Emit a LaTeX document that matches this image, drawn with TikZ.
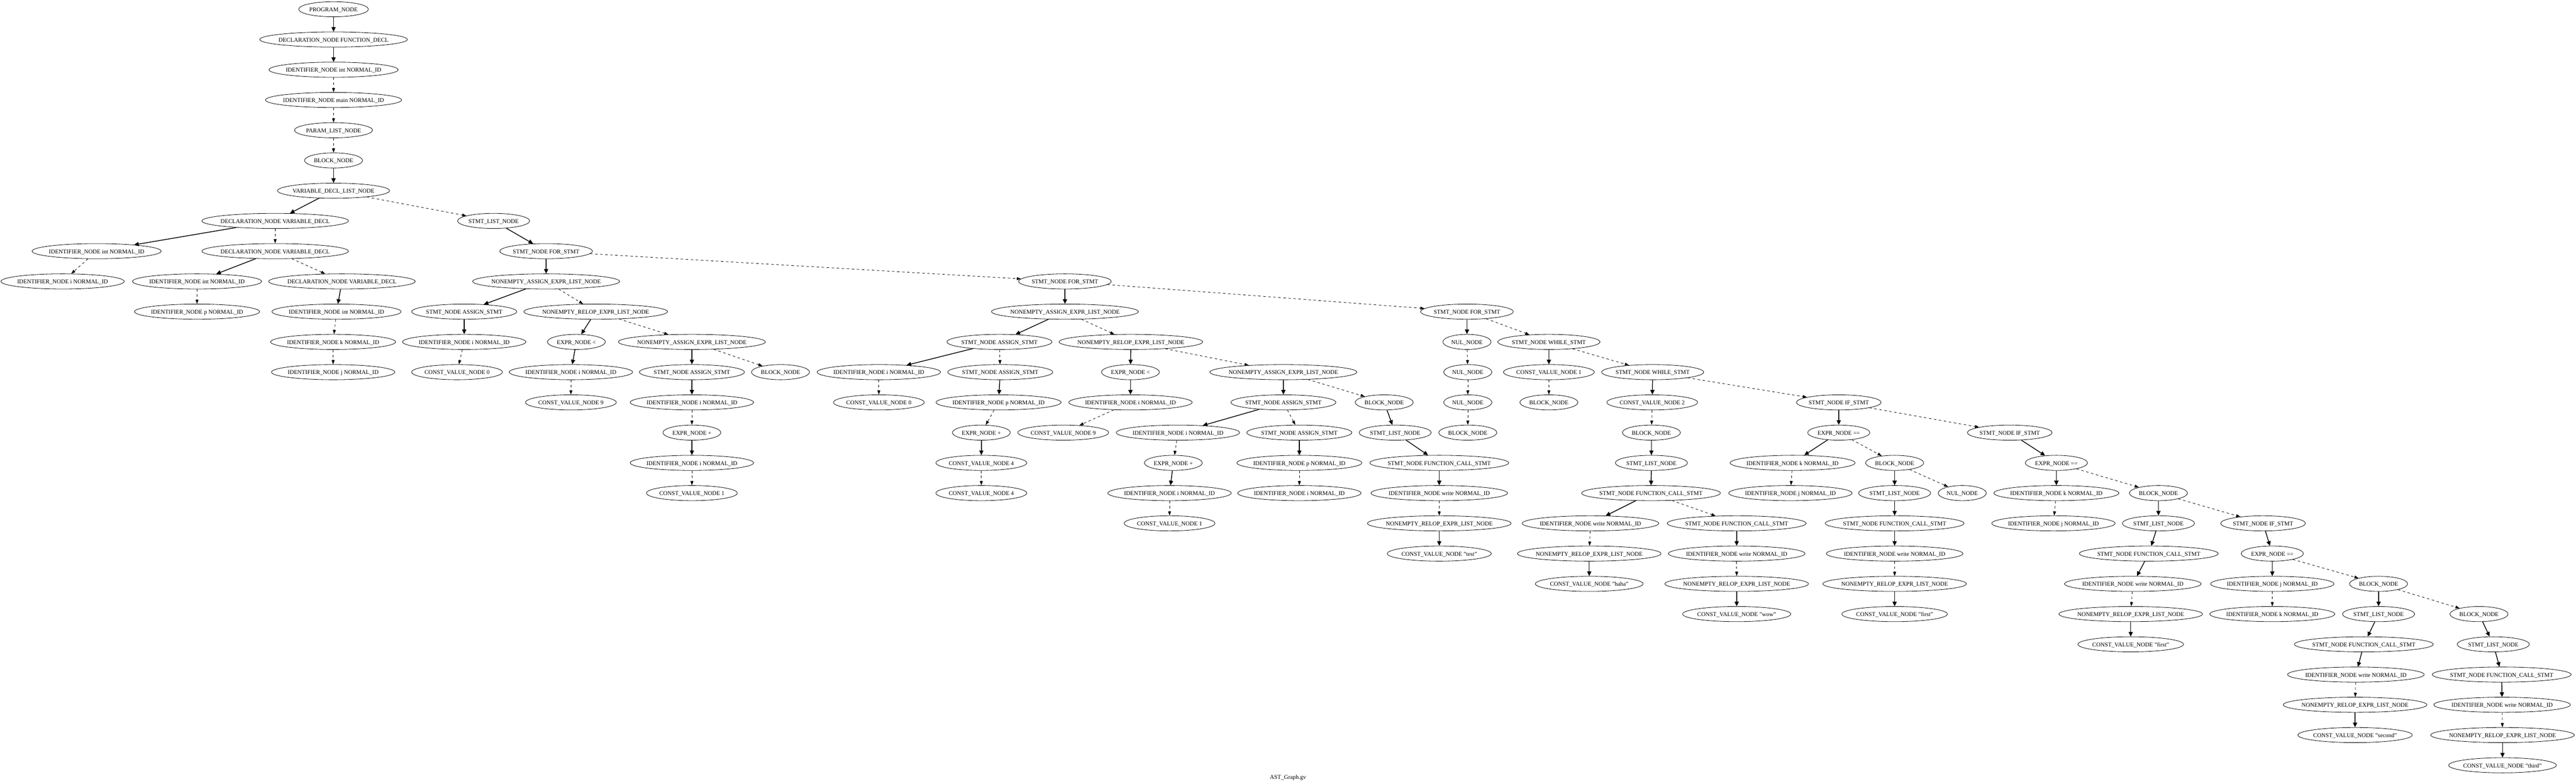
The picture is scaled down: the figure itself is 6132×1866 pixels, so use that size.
\documentclass[tikz,border=0pt]{standalone}
\usepackage{fontspec}
\setmainfont{Liberation Serif}
\usetikzlibrary{arrows.meta,shapes.geometric}
% label box: gives the ellipse graphviz-like proportions
\newcommand{\astlbl}[1]{\setbox0=\hbox{#1}\hbox to \dimexpr 0.8945\wd0+14.3pt\relax{\hss\box0\hss}}

\begin{document}
\begin{tikzpicture}[x=1pt,y=1pt,yscale=-1,xscale=1,
  ast/.style={draw, ellipse, line width=1pt, inner xsep=0pt, inner ysep=2pt,
    minimum height=36pt, text height=11pt, text depth=0pt,
    font=\fontsize{14}{16}\selectfont},
  kid/.style={line width=1.8pt, -{Triangle[length=11pt,width=10pt]}},
  sib/.style={line width=1pt, dash pattern=on 6pt off 6pt, -{Triangle[length=10pt,width=7pt]}}]
\useasboundingbox (0,0) rectangle (6132,1866);

%Shape: Ellipse -- program head
\node[ast] (n0) at (794,22) {\astlbl{PROGRAM\_NODE}};
\node[ast] (n1) at (794,94) {\astlbl{DECLARATION\_NODE FUNCTION\_DECL}};
\node[ast] (n2) at (794,166) {\astlbl{IDENTIFIER\_NODE int NORMAL\_ID}};
\node[ast] (n3) at (794,238) {\astlbl{IDENTIFIER\_NODE main NORMAL\_ID}};
\node[ast] (n4) at (794,310) {\astlbl{PARAM\_LIST\_NODE}};
\node[ast] (n5) at (794,382) {\astlbl{BLOCK\_NODE}};
\node[ast] (n6) at (794,454) {\astlbl{VARIABLE\_DECL\_LIST\_NODE}};

%Shape: Ellipse -- declarations
\node[ast] (d1) at (655,526) {\astlbl{DECLARATION\_NODE VARIABLE\_DECL}};
\node[ast] (d2) at (230,598) {\astlbl{IDENTIFIER\_NODE int NORMAL\_ID}};
\node[ast] (d3) at (149,670) {\astlbl{IDENTIFIER\_NODE i NORMAL\_ID}};
\node[ast] (d4) at (655,598) {\astlbl{DECLARATION\_NODE VARIABLE\_DECL}};
\node[ast] (d5) at (469,670) {\astlbl{IDENTIFIER\_NODE int NORMAL\_ID}};
\node[ast] (d6) at (469,742) {\astlbl{IDENTIFIER\_NODE p NORMAL\_ID}};
\node[ast] (d7) at (814,670) {\astlbl{DECLARATION\_NODE VARIABLE\_DECL}};
\node[ast] (d8) at (801,742) {\astlbl{IDENTIFIER\_NODE int NORMAL\_ID}};
\node[ast] (d9) at (793,814) {\astlbl{IDENTIFIER\_NODE k NORMAL\_ID}};
\node[ast] (d10) at (793,886) {\astlbl{IDENTIFIER\_NODE j NORMAL\_ID}};

%Shape: Ellipse -- first for
\node[ast] (s1) at (1175,526) {\astlbl{STMT\_LIST\_NODE}};
\node[ast] (f1) at (1300,598) {\astlbl{STMT\_NODE FOR\_STMT}};
\node[ast] (a1) at (1300,670) {\astlbl{NONEMPTY\_ASSIGN\_EXPR\_LIST\_NODE}};
\node[ast] (a2) at (1105,742) {\astlbl{STMT\_NODE ASSIGN\_STMT}};
\node[ast] (a3) at (1105,814) {\astlbl{IDENTIFIER\_NODE i NORMAL\_ID}};
\node[ast] (a4) at (1088,886) {\astlbl{CONST\_VALUE\_NODE 0}};
\node[ast] (a5) at (1418,742) {\astlbl{NONEMPTY\_RELOP\_EXPR\_LIST\_NODE}};
\node[ast] (a6) at (1372,814) {\astlbl{EXPR\_NODE <}};
\node[ast] (a7) at (1359,886) {\astlbl{IDENTIFIER\_NODE i NORMAL\_ID}};
\node[ast] (a8) at (1359,958) {\astlbl{CONST\_VALUE\_NODE 9}};
\node[ast] (a9) at (1647,814) {\astlbl{NONEMPTY\_ASSIGN\_EXPR\_LIST\_NODE}};
\node[ast] (a10) at (1647,886) {\astlbl{STMT\_NODE ASSIGN\_STMT}};
\node[ast] (a11) at (1647,958) {\astlbl{IDENTIFIER\_NODE i NORMAL\_ID}};
\node[ast] (a12) at (1647,1030) {\astlbl{EXPR\_NODE +}};
\node[ast] (a13) at (1647,1102) {\astlbl{IDENTIFIER\_NODE i NORMAL\_ID}};
\node[ast] (a14) at (1647,1174) {\astlbl{CONST\_VALUE\_NODE 1}};
\node[ast] (a15) at (1858,886) {\astlbl{BLOCK\_NODE}};

%Shape: Ellipse -- second for
\node[ast] (f2) at (2535,670) {\astlbl{STMT\_NODE FOR\_STMT}};
\node[ast] (b1) at (2535,742) {\astlbl{NONEMPTY\_ASSIGN\_EXPR\_LIST\_NODE}};
\node[ast] (b2) at (2379,814) {\astlbl{STMT\_NODE ASSIGN\_STMT}};
\node[ast] (b3) at (2092,886) {\astlbl{IDENTIFIER\_NODE i NORMAL\_ID}};
\node[ast] (b4) at (2092,958) {\astlbl{CONST\_VALUE\_NODE 0}};
\node[ast] (b5) at (2381,886) {\astlbl{STMT\_NODE ASSIGN\_STMT}};
\node[ast] (b6) at (2377,958) {\astlbl{IDENTIFIER\_NODE p NORMAL\_ID}};
\node[ast] (b7) at (2336,1030) {\astlbl{EXPR\_NODE +}};
\node[ast] (b8) at (2336,1102) {\astlbl{CONST\_VALUE\_NODE 4}};
\node[ast] (b9) at (2336,1174) {\astlbl{CONST\_VALUE\_NODE 4}};
\node[ast] (b10) at (2692,814) {\astlbl{NONEMPTY\_RELOP\_EXPR\_LIST\_NODE}};
\node[ast] (b11) at (2691,886) {\astlbl{EXPR\_NODE <}};
\node[ast] (b12) at (2691,958) {\astlbl{IDENTIFIER\_NODE i NORMAL\_ID}};
\node[ast] (b13) at (2531,1030) {\astlbl{CONST\_VALUE\_NODE 9}};
\node[ast] (b14) at (3055,886) {\astlbl{NONEMPTY\_ASSIGN\_EXPR\_LIST\_NODE}};
\node[ast] (b15) at (3055,958) {\astlbl{STMT\_NODE ASSIGN\_STMT}};
\node[ast] (b16) at (2804,1030) {\astlbl{IDENTIFIER\_NODE i NORMAL\_ID}};
\node[ast] (b17) at (2793,1102) {\astlbl{EXPR\_NODE +}};
\node[ast] (b18) at (2784,1174) {\astlbl{IDENTIFIER\_NODE i NORMAL\_ID}};
\node[ast] (b19) at (2784,1246) {\astlbl{CONST\_VALUE\_NODE 1}};
\node[ast] (b20) at (3093,1030) {\astlbl{STMT\_NODE ASSIGN\_STMT}};
\node[ast] (b21) at (3093,1102) {\astlbl{IDENTIFIER\_NODE p NORMAL\_ID}};
\node[ast] (b22) at (3093,1174) {\astlbl{IDENTIFIER\_NODE i NORMAL\_ID}};
\node[ast] (b23) at (3295,958) {\astlbl{BLOCK\_NODE}};
\node[ast] (b24) at (3321,1030) {\astlbl{STMT\_LIST\_NODE}};
\node[ast] (b25) at (3426,1102) {\astlbl{STMT\_NODE FUNCTION\_CALL\_STMT}};
\node[ast] (b26) at (3426,1174) {\astlbl{IDENTIFIER\_NODE write NORMAL\_ID}};
\node[ast] (b27) at (3426,1246) {\astlbl{NONEMPTY\_RELOP\_EXPR\_LIST\_NODE}};
\node[ast] (b28) at (3426,1318) {\astlbl{CONST\_VALUE\_NODE "test"}};

%Shape: Ellipse -- third for, whiles
\node[ast] (c1) at (3492,742) {\astlbl{STMT\_NODE FOR\_STMT}};
\node[ast] (c2) at (3492,814) {\astlbl{NUL\_NODE}};
\node[ast] (c3) at (3494,886) {\astlbl{NUL\_NODE}};
\node[ast] (c4) at (3494,958) {\astlbl{NUL\_NODE}};
\node[ast] (c5) at (3494,1030) {\astlbl{BLOCK\_NODE}};
\node[ast] (w1) at (3687,814) {\astlbl{STMT\_NODE WHILE\_STMT}};
\node[ast] (w2) at (3687,886) {\astlbl{CONST\_VALUE\_NODE 1}};
\node[ast] (w3) at (3687,958) {\astlbl{BLOCK\_NODE}};
\node[ast] (w4) at (3934,886) {\astlbl{STMT\_NODE WHILE\_STMT}};
\node[ast] (w5) at (3933,958) {\astlbl{CONST\_VALUE\_NODE 2}};
\node[ast] (w6) at (3931,1030) {\astlbl{BLOCK\_NODE}};
\node[ast] (w7) at (3931,1102) {\astlbl{STMT\_LIST\_NODE}};
\node[ast] (w8) at (3930,1174) {\astlbl{STMT\_NODE FUNCTION\_CALL\_STMT}};
\node[ast] (w9) at (3786,1246) {\astlbl{IDENTIFIER\_NODE write NORMAL\_ID}};
\node[ast] (w10) at (3783,1318) {\astlbl{NONEMPTY\_RELOP\_EXPR\_LIST\_NODE}};
\node[ast] (w11) at (3783,1390) {\astlbl{CONST\_VALUE\_NODE "haha"}};
\node[ast] (w12) at (4134,1246) {\astlbl{STMT\_NODE FUNCTION\_CALL\_STMT}};
\node[ast] (w13) at (4134,1318) {\astlbl{IDENTIFIER\_NODE write NORMAL\_ID}};
\node[ast] (w14) at (4134,1390) {\astlbl{NONEMPTY\_RELOP\_EXPR\_LIST\_NODE}};
\node[ast] (w15) at (4134,1462) {\astlbl{CONST\_VALUE\_NODE "wow"}};

%Shape: Ellipse -- ifs
\node[ast] (i1) at (4377,958) {\astlbl{STMT\_NODE IF\_STMT}};
\node[ast] (i2) at (4377,1030) {\astlbl{EXPR\_NODE ==}};
\node[ast] (i3) at (4267,1102) {\astlbl{IDENTIFIER\_NODE k NORMAL\_ID}};
\node[ast] (i4) at (4262,1174) {\astlbl{IDENTIFIER\_NODE j NORMAL\_ID}};
\node[ast] (i5) at (4510,1102) {\astlbl{BLOCK\_NODE}};
\node[ast] (i6) at (4510,1174) {\astlbl{STMT\_LIST\_NODE}};
\node[ast] (i7) at (4671,1174) {\astlbl{NUL\_NODE}};
\node[ast] (i8) at (4510,1246) {\astlbl{STMT\_NODE FUNCTION\_CALL\_STMT}};
\node[ast] (i9) at (4510,1318) {\astlbl{IDENTIFIER\_NODE write NORMAL\_ID}};
\node[ast] (i10) at (4510,1390) {\astlbl{NONEMPTY\_RELOP\_EXPR\_LIST\_NODE}};
\node[ast] (i11) at (4510,1462) {\astlbl{CONST\_VALUE\_NODE "first"}};
\node[ast] (j1) at (4784,1030) {\astlbl{STMT\_NODE IF\_STMT}};
\node[ast] (j2) at (4895,1102) {\astlbl{EXPR\_NODE ==}};
\node[ast] (j3) at (4895,1174) {\astlbl{IDENTIFIER\_NODE k NORMAL\_ID}};
\node[ast] (j4) at (4888,1246) {\astlbl{IDENTIFIER\_NODE j NORMAL\_ID}};
\node[ast] (j5) at (5138,1174) {\astlbl{BLOCK\_NODE}};
\node[ast] (j6) at (5138,1246) {\astlbl{STMT\_LIST\_NODE}};
\node[ast] (j7) at (5115,1318) {\astlbl{STMT\_NODE FUNCTION\_CALL\_STMT}};
\node[ast] (j8) at (5077,1390) {\astlbl{IDENTIFIER\_NODE write NORMAL\_ID}};
\node[ast] (j9) at (5072,1462) {\astlbl{NONEMPTY\_RELOP\_EXPR\_LIST\_NODE}};
\node[ast] (j10) at (5072,1534) {\astlbl{CONST\_VALUE\_NODE "first"}};
\node[ast] (k1) at (5387,1246) {\astlbl{STMT\_NODE IF\_STMT}};
\node[ast] (k2) at (5409,1318) {\astlbl{EXPR\_NODE ==}};
\node[ast] (k3) at (5409,1390) {\astlbl{IDENTIFIER\_NODE j NORMAL\_ID}};
\node[ast] (k4) at (5409,1462) {\astlbl{IDENTIFIER\_NODE k NORMAL\_ID}};
\node[ast] (k5) at (5662,1390) {\astlbl{BLOCK\_NODE}};
\node[ast] (k6) at (5662,1462) {\astlbl{STMT\_LIST\_NODE}};
\node[ast] (k7) at (5627,1534) {\astlbl{STMT\_NODE FUNCTION\_CALL\_STMT}};
\node[ast] (k8) at (5608,1606) {\astlbl{IDENTIFIER\_NODE write NORMAL\_ID}};
\node[ast] (k9) at (5606,1678) {\astlbl{NONEMPTY\_RELOP\_EXPR\_LIST\_NODE}};
\node[ast] (k10) at (5606,1750) {\astlbl{CONST\_VALUE\_NODE "second"}};
\node[ast] (k11) at (5901,1462) {\astlbl{BLOCK\_NODE}};
\node[ast] (k12) at (5935,1534) {\astlbl{STMT\_LIST\_NODE}};
\node[ast] (k13) at (5955,1606) {\astlbl{STMT\_NODE FUNCTION\_CALL\_STMT}};
\node[ast] (k14) at (5956,1678) {\astlbl{IDENTIFIER\_NODE write NORMAL\_ID}};
\node[ast] (k15) at (5957,1750) {\astlbl{NONEMPTY\_RELOP\_EXPR\_LIST\_NODE}};
\node[ast] (k16) at (5957,1822) {\astlbl{CONST\_VALUE\_NODE "third"}};

% Text Node
\node[font=\fontsize{14}{16}\selectfont, inner sep=0pt] (title) at (3066,1851) {AST\_Graph.gv};

%Straight Lines -- first child
\foreach \p/\c in {n0/n1,n1/n2,n5/n6,n6/d1,d1/d2,d4/d5,d7/d8,
  s1/f1,f1/a1,a1/a2,a2/a3,a5/a6,a6/a7,a9/a10,a10/a11,a12/a13,
  f2/b1,b1/b2,b2/b3,b5/b6,b7/b8,b10/b11,b11/b12,b14/b15,b15/b16,b17/b18,b20/b21,
  b23/b24,b24/b25,b25/b26,b27/b28,
  c1/c2,w1/w2,w4/w5,w6/w7,w7/w8,w8/w9,w10/w11,w12/w13,w14/w15,
  i1/i2,i2/i3,i5/i6,i6/i8,i8/i9,i10/i11,
  j1/j2,j2/j3,j5/j6,j6/j7,j7/j8,j9/j10,
  k1/k2,k2/k3,k5/k6,k6/k7,k7/k8,k9/k10,k11/k12,k12/k13,k13/k14,k15/k16}
  \draw[kid] (\p) -- (\c);

%Straight Lines -- next sibling
\foreach \p/\c in {n2/n3,n3/n4,n4/n5,n6/s1,d1/d4,d2/d3,d4/d7,d5/d6,d8/d9,d9/d10,
  f1/f2,a1/a5,a3/a4,a5/a9,a7/a8,a9/a15,a11/a12,a13/a14,
  f2/c1,b1/b10,b2/b5,b3/b4,b6/b7,b8/b9,b10/b14,b12/b13,b14/b23,b15/b20,b16/b17,b18/b19,b21/b22,b26/b27,
  c1/w1,c2/c3,c3/c4,c4/c5,w1/w4,w2/w3,w4/i1,w5/w6,w8/w12,w9/w10,w13/w14,
  i1/j1,i2/i5,i3/i4,i5/i7,i9/i10,
  j2/j5,j3/j4,j5/k1,j8/j9,
  k2/k5,k3/k4,k5/k11,k8/k9,k14/k15}
  \draw[sib] (\p) -- (\c);

\end{tikzpicture}
\end{document}
